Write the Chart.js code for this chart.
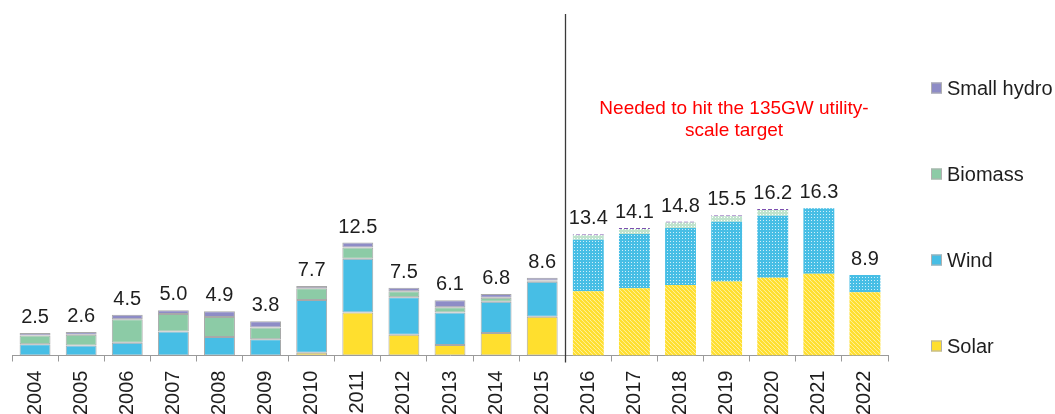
<!DOCTYPE html>
<html>
<head>
<meta charset="utf-8">
<script src="https://cdn.jsdelivr.net/npm/chart.js@4"></script>
<style>
  body { margin: 0; background: #fff; }
  #wrap { width: 1055px; height: 414px; position: relative; }
</style>
</head>
<body>
<div id="wrap"><canvas id="chart"></canvas></div>
<script>
const years = ['2004', '2005', '2006', '2007', '2008', '2009', '2010', '2011', '2012', '2013',
  '2014', '2015', '2016', '2017', '2018', '2019', '2020', '2021', '2022'];
const solar = [0, 0, 0, 0, 0, 0, 0.3, 4.75, 2.3, 1.15, 2.5, 4.3, 7.1, 7.45, 7.8, 8.2, 8.6, 9.05, 7.0];
const wind = [1.25, 1.1, 1.4, 2.65, 2.05, 1.8, 5.85, 5.95, 4.15, 3.6, 3.45, 3.85, 5.7, 6.0, 6.3, 6.6, 6.85, 7.25, 1.9];
const biomass = [0.95, 1.2, 2.6, 1.95, 2.2, 1.3, 1.3, 1.25, 0.65, 0.6, 0.45, 0.15, 0.5, 0.55, 0.6, 0.6, 0.65, 0, 0];
const hydro = [0.3, 0.3, 0.5, 0.4, 0.65, 0.7, 0.25, 0.55, 0.4, 0.75, 0.4, 0.3, 0.1, 0.1, 0.1, 0.1, 0.1, 0, 0];
const totals = ['2.5', '2.6', '4.5', '5.0', '4.9', '3.8', '7.7', '12.5', '7.5', '6.1', '6.8', '8.6',
  '13.4', '14.1', '14.8', '15.5', '16.2', '16.3', '8.9'];
const firstForecast = 12; // 2016 onwards is the "needed" projection
const note = ['Needed to hit the 135GW utility-', 'scale target'];

const FONT = "'Liberation Sans', Arial, sans-serif";
const colors = { solar: '#ffdf2e', wind: '#47bee5', biomass: '#8ccba6', hydro: '#8e8cc6' };

function tile(w, h, draw) {
  const c = document.createElement('canvas');
  c.width = w;
  c.height = h;
  draw(c.getContext('2d'));
  return c.getContext('2d').createPattern(c, 'repeat');
}

const patterns = {
  solar: tile(4, 4, g => {
    g.fillStyle = '#fff';
    g.fillRect(0, 0, 4, 4);
    g.strokeStyle = colors.solar;
    g.lineWidth = 2.4;
    g.beginPath();
    g.moveTo(-1, -1); g.lineTo(5, 5);
    g.moveTo(-1, 3); g.lineTo(1, 5);
    g.moveTo(3, -1); g.lineTo(5, 1);
    g.stroke();
  }),
  wind: tile(3, 3, g => {
    g.fillStyle = colors.wind;
    g.fillRect(0, 0, 3, 3);
    g.fillStyle = 'rgba(255,255,255,0.75)';
    g.fillRect(1, 1, 1, 1);
  }),
  biomass: tile(3, 3, g => {
    g.fillStyle = '#bfe3cd';
    g.fillRect(0, 0, 3, 3);
    g.fillStyle = '#fff';
    g.fillRect(1, 1, 1, 1);
  }),
  hydro: tile(6, 2, g => {
    g.fillStyle = '#fff';
    g.fillRect(0, 0, 6, 2);
    g.fillStyle = '#7d4fb0';
    g.fillRect(0, 0, 4, 2);
  })
};

const isForecast = i => i >= firstForecast;

const datasets = [
  { label: 'Solar', key: 'solar', data: solar },
  { label: 'Wind', key: 'wind', data: wind },
  { label: 'Biomass', key: 'biomass', data: biomass },
  { label: 'Small hydro', key: 'hydro', data: hydro }
].map(d => ({
  label: d.label,
  data: d.data,
  legendColor: colors[d.key],
  backgroundColor: years.map((y, i) => isForecast(i) ? patterns[d.key] : colors[d.key]),
  borderColor: '#a8a8a8',
  borderWidth: years.map((y, i) => isForecast(i) ? 0 : 1),
  borderSkipped: false,
  barPercentage: 0.67,
  categoryPercentage: 1
}));

// totals above each stack, divider line, red note and the right-hand legend
const extras = {
  id: 'extras',
  afterDatasetsDraw(chart) {
    const ctx = chart.ctx;
    const x = chart.scales.x;
    const y = chart.scales.y;
    ctx.save();
    ctx.font = '20px ' + FONT;
    ctx.fillStyle = '#1e1e1e';
    ctx.textAlign = 'center';
    ctx.textBaseline = 'alphabetic';
    years.forEach((yr, i) => {
      const sum = solar[i] + wind[i] + biomass[i] + hydro[i];
      ctx.fillText(totals[i], x.getPixelForValue(i), y.getPixelForValue(sum) - 10);
    });

    const lx = Math.round((x.getPixelForValue(firstForecast - 1) + x.getPixelForValue(firstForecast)) / 2) + 0.5;
    ctx.strokeStyle = '#3a3a3a';
    ctx.lineWidth = 1.3;
    ctx.beginPath();
    ctx.moveTo(lx, chart.chartArea.top + 2);
    ctx.lineTo(lx, chart.chartArea.bottom + 7);
    ctx.stroke();

    ctx.font = '19px ' + FONT;
    ctx.fillStyle = '#ff0000';
    ctx.textBaseline = 'middle';
    ctx.fillText(note[0], 734, 109);
    ctx.fillText(note[1], 734, 131);

    ctx.font = '20px ' + FONT;
    ctx.textAlign = 'left';
    const ds = chart.data.datasets.slice().reverse();
    ds.forEach((d, k) => {
      const cy = 88 + k * 86;
      ctx.fillStyle = d.legendColor;
      ctx.fillRect(931, cy - 5.5, 11, 11);
      ctx.strokeStyle = '#b0b0b0';
      ctx.lineWidth = 1;
      ctx.strokeRect(931.5, cy - 5, 10, 10);
      ctx.fillStyle = '#1e1e1e';
      ctx.fillText(d.label, 947, cy + 1);
    });
    ctx.restore();
  }
};

new Chart(document.getElementById('chart'), {
  type: 'bar',
  data: { labels: years, datasets: datasets },
  options: {
    responsive: true,
    maintainAspectRatio: false,
    animation: false,
    layout: { padding: { left: 12, right: 167, top: 12, bottom: -10 } },
    plugins: {
      legend: { display: false },
      tooltip: { enabled: false }
    },
    scales: {
      x: {
        stacked: true,
        border: { display: true, color: '#9a9a9a', width: 1 },
        grid: { display: true, drawOnChartArea: false, drawTicks: true, tickLength: 6, color: '#9a9a9a', offset: true },
        ticks: {
          autoSkip: false,
          minRotation: 90,
          maxRotation: 90,
          padding: 9,
          color: '#1e1e1e',
          font: { family: FONT, size: 20 }
        }
      },
      y: {
        stacked: true,
        display: false,
        min: 0,
        max: 38
      }
    }
  },
  plugins: [extras]
});
</script>
</body>
</html>
